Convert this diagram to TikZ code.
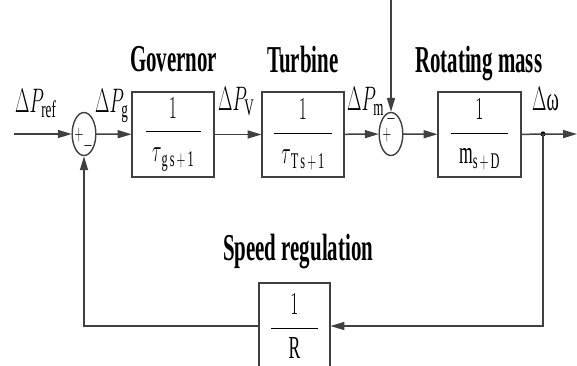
\RequirePackage{fix-cm}
\documentclass[tikz,border=0pt]{standalone}
\usepackage{amsmath}
\usepackage{fontspec}
\setmainfont{Liberation Serif}
\usetikzlibrary{arrows.meta}
\usetikzlibrary{calc}
\definecolor{linegray}{gray}{0.25}
\newcommand{\blockfrac}[3]{$\dfrac{#1}{\makebox[#3]{$#2$}}$}
\tikzset{
  sq/.style={xscale=0.55,transform shape},
  block/.style={draw=linegray,line width=1.5pt,minimum width=#1,minimum height=85pt,
    inner sep=0pt,font=\fontsize{32}{34}\selectfont,sq},
  sumj/.style={draw=linegray,line width=1.4pt,circle,minimum size=43pt,inner sep=0pt,sq},
  title/.style={font=\fontsize{38}{40}\selectfont\bfseries,inner sep=0pt,anchor=base west,sq},
  sig/.style={font=\fontsize{34}{36}\selectfont,inner sep=0pt,anchor=base west,sq},
  sgn/.style={font=\fontsize{22}{24}\selectfont,inner sep=0pt,sq},
  link/.style={draw=linegray,line width=1.5pt,-{Triangle[length=14pt,width=8pt]}},
}

\begin{document}
\begin{tikzpicture}[x=1pt,y=-1pt]
\useasboundingbox (0,0) rectangle (577,365);

% forward path
\coordinate (in) at (14,134);
\node[sumj] (s1) at (84,134) {};
\node[block=149pt] (gov) at (173,134.5) {\blockfrac{1}{\tau_{\,\mathrm{g\,s\,+\,1}}}{100pt}};
\node[block=149pt] (tur) at (303,134.5) {\blockfrac{1}{\tau_{\,\mathrm{T\,s\,+\,1}}}{104pt}};
\node[sumj] (s2) at (391,134) {};
\node[block=151pt] (mass) at (479.5,134.5) {\blockfrac{1}{\mathrm{m}_{\mathrm{s\,+\,D}}}{104pt}};
\fill[black] (543,134) circle (2.6pt) coordinate (dot);
\coordinate (out) at (577,134);
\coordinate (top) at (391,0);

% feedback path
\node[block=129pt,minimum height=86pt] (rb) at (294.5,326) {\blockfrac{1}{\mathrm{R}}{84pt}};

% signs
\node[sgn] (p1) at (79,135) {$+$};
\node[sgn] (m1) at (88,146) {$-$};
\node[sgn] (m2) at (391,119) {$-$};
\node[sgn] (p2) at (387,135) {$+$};

% signal labels
\node[sig] (lref) at (15,112) {$\Delta P_{\mathrm{ref}}$};
\node[sig] (lg) at (95,112) {$\Delta P_{\mathrm{g}}$};
\node[sig] (lv) at (218,110) {$\Delta P_{\mathrm{V}}$};
\node[sig] (lm) at (347,110) {$\Delta P_{\mathrm{m}}$};
\node[sig] (lw) at (532,110) {$\Delta$ω};

% titles
\node[title] (tgov) at (130,71) {Governor};
\node[title] (ttur) at (267,72) {Turbine};
\node[title] (tmass) at (415,72) {Rotating mass};
\node[title] (tspeed) at (223,260) {Speed regulation};

% connectors
\draw[link] (in) -- (s1);
\draw[link] (s1) -- (gov);
\draw[link] (gov) -- (tur);
\draw[link] (tur) -- (s2);
\draw[link] (top) -- (s2);
\draw[link] (s2) -- (mass);
\draw[link] (mass) -- (out);
\draw[link] (dot) |- (rb.east);
\draw[link] (rb.west) -| (s1.south);

\end{tikzpicture}
\end{document}
